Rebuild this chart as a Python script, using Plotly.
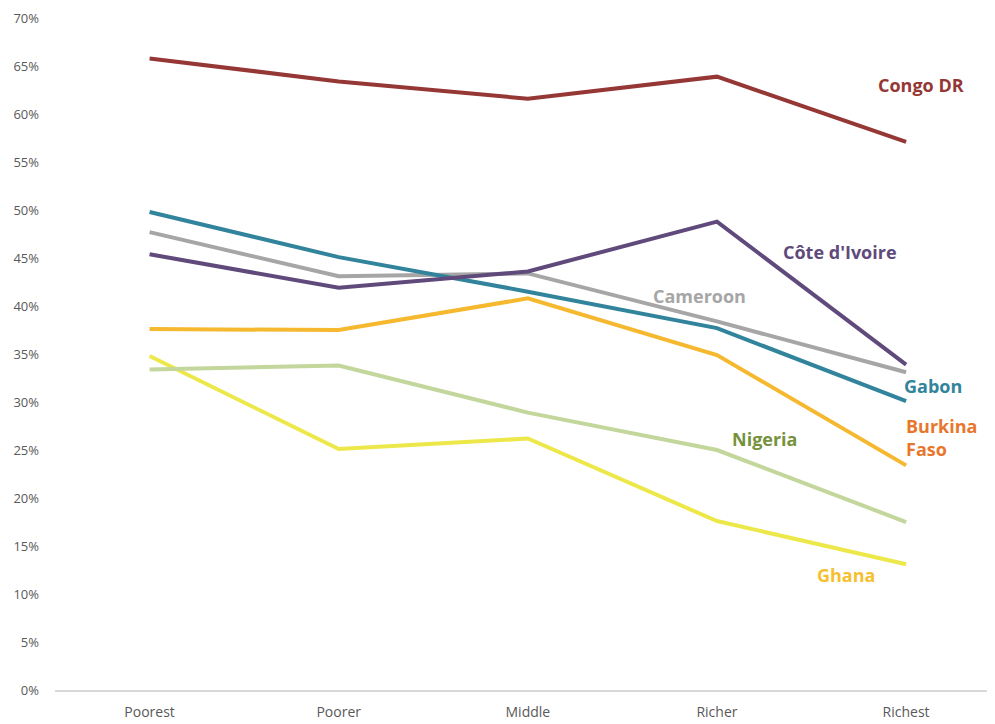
import plotly.graph_objects as go

categories = ["Poorest", "Poorer", "Middle", "Richer", "Richest"]

congo_dr = [65.8, 63.4, 61.6, 63.9, 57.1]
cote_divoire = [45.4, 41.9, 43.6, 48.8, 33.9]
cameroon = [47.7, 43.1, 43.4, 38.4, 33.1]
gabon = [49.8, 45.1, 41.5, 37.7, 30.1]
burkina_faso = [37.6, 37.5, 40.8, 34.9, 23.4]
nigeria = [33.4, 33.8, 28.9, 25.0, 17.5]
ghana = [34.8, 25.1, 26.2, 17.6, 13.1]

y_ticks = list(range(0, 75, 5))
y_tick_labels = [f"{v}%" for v in y_ticks]

series = [
    ("Ghana", ghana, "#EDE84A"),
    ("Nigeria", nigeria, "#C3D69B"),
    ("Burkina Faso", burkina_faso, "#F5B82E"),
    ("Cameroon", cameroon, "#A6A6A6"),
    ("Gabon", gabon, "#31849B"),
    ("Côte d'Ivoire", cote_divoire, "#604A7B"),
    ("Congo DR", congo_dr, "#953735"),
]

fig = go.Figure()
for name, vals, col in series:
    fig.add_trace(go.Scatter(
        x=list(range(len(categories))), y=vals, mode="lines", name=name,
        line=dict(color=col, width=4), showlegend=False,
    ))

labels = [
    ("Congo DR", 4.08, 63.0, "#953735", "center"),
    ("Côte d'Ivoire", 3.65, 45.6, "#604A7B", "center"),
    ("Cameroon", 2.91, 41.1, "#A6A6A6", "center"),
    ("Gabon", 4.14, 31.7, "#31849B", "center"),
    ("Burkina<br>Faso", 3.99, 26.3, "#E8772E", "left"),
    ("Nigeria", 3.25, 26.1, "#76923C", "center"),
    ("Ghana", 3.68, 12.0, "#F5C030", "center"),
]
for text, x, y, col, align in labels:
    fig.add_annotation(
        x=x, y=y, xref="x", yref="y", text=text, showarrow=False,
        font=dict(family="Open Sans, sans-serif", size=18, color=col, weight="bold"),
        xanchor="left" if align == "left" else "center", align=align,
    )

fig.update_layout(
    width=987, height=716,
    margin=dict(l=47, r=0, t=10, b=34),
    paper_bgcolor="white", plot_bgcolor="white",
    font=dict(family="Open Sans, sans-serif", size=14, color="#595959"),
    xaxis=dict(
        range=[-0.5, 4.47], tickmode="array",
        tickvals=list(range(len(categories))), ticktext=categories,
        showgrid=False, zeroline=False, showline=True,
        linecolor="#D9D9D9", linewidth=2, ticks="",
        ticklabelstandoff=8,
        tickfont=dict(size=14, color="#595959"),
    ),
    yaxis=dict(
        range=[0, 70.01], tickmode="array", tickvals=y_ticks, ticktext=y_tick_labels,
        showgrid=False, zeroline=False, showline=False, ticks="",
        ticklabelstandoff=15,
        tickfont=dict(size=13, color="#595959"),
    ),
)

fig.write_html("out.html")
